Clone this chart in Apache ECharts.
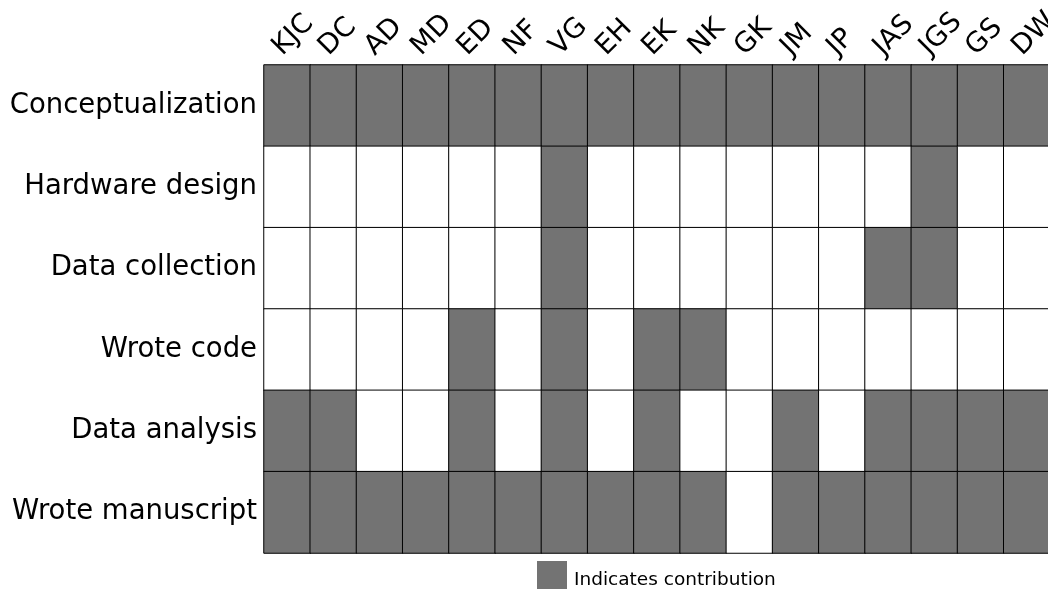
<!DOCTYPE html>
<html>
<head>
<meta charset="utf-8">
<script src="https://cdn.jsdelivr.net/npm/echarts@6/dist/echarts.min.js"></script>
<style>html,body{margin:0;padding:0;background:#fff;}#c{width:1048px;height:591px;}</style>
</head>
<body>
<div id="c"></div>
<script>
const authors = ['KJC','DC','AD','MD','ED','NF','VG','EH','EK','NK','GK','JM','JP','JAS','JGS','GS','DW'];
const roles = ['Conceptualization','Hardware design','Data collection','Wrote code','Data analysis','Wrote manuscript'];
const conceptualization = [1,1,1,1,1,1,1,1,1,1,1,1,1,1,1,1,1];
const hardwareDesign    = [0,0,0,0,0,0,1,0,0,0,0,0,0,0,1,0,0];
const dataCollection    = [0,0,0,0,0,0,1,0,0,0,0,0,0,1,1,0,0];
const wroteCode         = [0,0,0,0,1,0,1,0,1,1,0,0,0,0,0,0,0];
const dataAnalysis      = [1,1,0,0,1,0,1,0,1,0,0,1,0,1,1,1,1];
const wroteManuscript   = [1,1,1,1,1,1,1,1,1,1,0,1,1,1,1,1,1];
const matrix = [conceptualization, hardwareDesign, dataCollection, wroteCode, dataAnalysis, wroteManuscript];

const GRAY = '#737373';
const data = [];
matrix.forEach((row, r) => row.forEach((v, c) => {
  data.push({ value: [c, r, v], itemStyle: { color: v ? GRAY : '#ffffff' } });
}));

const chart = echarts.init(document.getElementById('c'));
chart.setOption({
  animation: false,
  backgroundColor: '#ffffff',
  textStyle: { fontFamily: 'DejaVu Sans' },
  grid: { left: 264, top: 65, right: -2, bottom: 38, containLabel: false, outerBoundsMode: 'none' },
  legend: {
    data: [{ name: 'Indicates contribution', icon: 'rect', itemStyle: { color: GRAY, borderWidth: 0 } }],
    left: 532, top: 556, itemWidth: 30, itemHeight: 28, itemGap: 7,
    formatter: '{a|{name}}',
    textStyle: { fontSize: 18.5, color: '#000', fontFamily: 'DejaVu Sans',
      rich: { a: { fontSize: 18.5, color: '#000', fontFamily: 'DejaVu Sans', padding: [10, 0, 0, 2] } } },
    selectedMode: false
  },
  xAxis: {
    type: 'category', data: authors, position: 'top',
    axisLine: { show: false }, axisTick: { show: false }, splitLine: { show: false },
    axisLabel: { rotate: -45, fontSize: 27.5, color: '#000', margin: 4, verticalAlign: 'bottom', fontFamily: 'DejaVu Sans', interval: 0 }
  },
  yAxis: {
    type: 'category', data: roles, inverse: true,
    axisLine: { show: false }, axisTick: { show: false }, splitLine: { show: false },
    axisLabel: { fontSize: 27.5, color: '#000', margin: 7, fontFamily: 'DejaVu Sans' }
  },
  series: [{
    name: 'Indicates contribution', type: 'heatmap', data: data,
    itemStyle: { color: GRAY, borderColor: '#000', borderWidth: 1 },
    emphasis: { disabled: true }
  }]
});
</script>
</body>
</html>
